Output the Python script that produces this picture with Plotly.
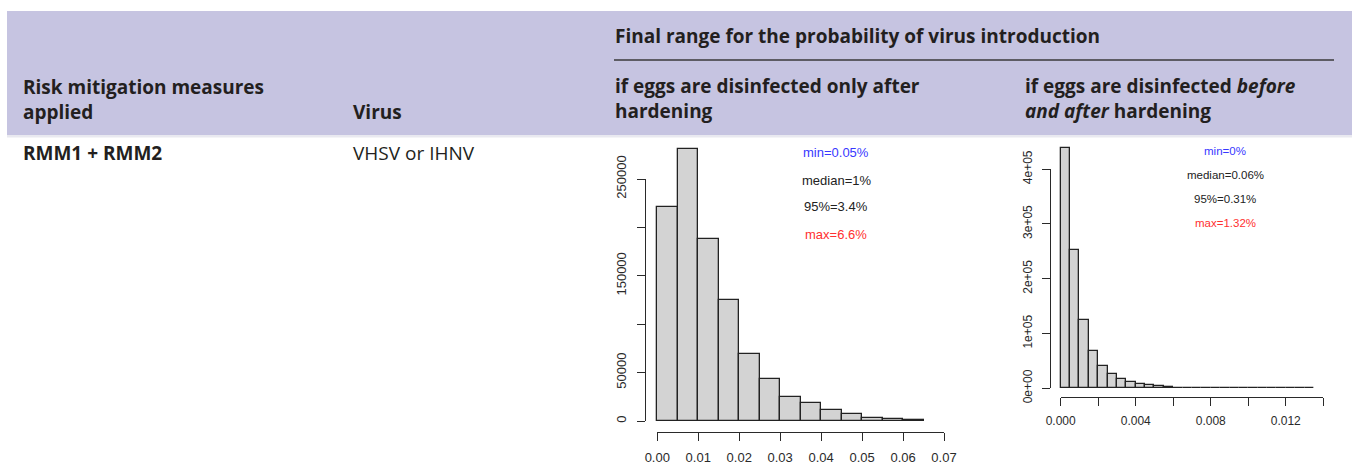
import plotly.graph_objects as go

W, H = 1352, 464

# ---------------- data ----------------
left_bin_starts = [0.000, 0.005, 0.010, 0.015, 0.020, 0.025, 0.030,
                   0.035, 0.040, 0.045, 0.050, 0.055, 0.060]
left_bin_width = 0.005
left_counts = [221000, 280500, 187700, 125000, 69500, 43700, 24500,
               18900, 11400, 7200, 3400, 2100, 700]
left_x_tickvals = [0.00, 0.01, 0.02, 0.03, 0.04, 0.05, 0.06, 0.07]
left_x_ticktext = ["0.00", "0.01", "0.02", "0.03", "0.04", "0.05", "0.06", "0.07"]
left_y_tickvals = [0, 50000, 100000, 150000, 200000, 250000]
left_y_ticktext = ["0", "50000", "", "150000", "", "250000"]
left_stats = ["min=0.05%", "median=1%", "95%=3.4%", "max=6.6%"]

right_bin_starts = [0.0000, 0.0005, 0.0010, 0.0015, 0.0020, 0.0025, 0.0030,
                    0.0035, 0.0040, 0.0045, 0.0050, 0.0055, 0.0060, 0.0065,
                    0.0070, 0.0075, 0.0080, 0.0085, 0.0090, 0.0095, 0.0100,
                    0.0105, 0.0110, 0.0115, 0.0120, 0.0125, 0.0130]
right_bin_width = 0.0005
right_counts = [438000, 252000, 124500, 68500, 40000, 26000, 16400,
                12000, 7800, 5500, 3600, 2900, 1400, 1100,
                900, 700, 550, 450, 120, 90, 60,
                40, 25, 15, 10, 5, 2]
right_x_tickvals = [0.000, 0.002, 0.004, 0.006, 0.008, 0.010, 0.012, 0.014]
right_x_ticktext = ["0.000", "", "0.004", "", "0.008", "", "0.012", ""]
right_y_tickvals = [0, 100000, 200000, 300000, 400000]
right_y_ticktext = ["0e+00", "1e+05", "2e+05", "3e+05", "4e+05"]
right_stats = ["min=0%", "median=0.06%", "95%=0.31%", "max=1.32%"]

stat_colors = ["#3838ff", "#222222", "#222222", "#ff3030"]

header_col1 = ["Risk mitigation measures", "applied"]
header_col2 = "Virus"
header_group = "Final range for the probability of virus introduction"
header_sub1 = ["if eggs are disinfected only after", "hardening"]
header_sub2 = ["if eggs are disinfected <i>before</i>", "<i>and after</i> hardening"]
row_measure = "RMM1 + RMM2"
row_virus = "VHSV or IHNV"


def px(x):
    return x / W


def py(y):
    return 1 - y / H


TXT = "#231F20"
AXC = "#2a2a2a"
HFONT = "Open Sans"
PFONT = "Liberation Sans, Arial, sans-serif"

fig = go.Figure()

bar_style = dict(color="#D3D3D3", line=dict(color="#222222", width=1.3))
fig.add_trace(go.Bar(x=left_bin_starts, y=left_counts, width=left_bin_width, offset=0,
                     marker=bar_style, xaxis="x", yaxis="y", hoverinfo="skip",
                     showlegend=False))
fig.add_trace(go.Bar(x=right_bin_starts, y=right_counts, width=right_bin_width, offset=0,
                     marker=bar_style, xaxis="x2", yaxis="y2", hoverinfo="skip",
                     showlegend=False))
# invisible anchors for the R-style decorative axes
fig.add_trace(go.Scatter(x=left_bin_starts, y=left_counts, xaxis="x3", yaxis="y3",
                         mode="markers", marker=dict(opacity=0), hoverinfo="skip",
                         showlegend=False))
fig.add_trace(go.Scatter(x=right_bin_starts, y=right_counts, xaxis="x4", yaxis="y4",
                         mode="markers", marker=dict(opacity=0), hoverinfo="skip",
                         showlegend=False))

# ---- pixel calibration ----
LX0, LXS = 657.3, 4096.0      # pixel of x=0, px per unit
LY0, LYS = 421.0, 0.000968    # pixel of y=0, px per count
RX0, RXS = 1060.7, 18757.0
RY0, RYS = 388.3, 0.000548

hidden = dict(visible=False, showgrid=False, zeroline=False, fixedrange=True)

ldx = (645, 952)
ldy = (140, 428)
rdx = (1048, 1330)
rdy = (140, 394)

deco = dict(showline=True, linecolor=AXC, linewidth=1.4, ticks="outside", ticklen=8,
            tickwidth=1.3, tickcolor=AXC, showgrid=False, zeroline=False,
            anchor="free", fixedrange=True, tickmode="array", automargin=False)

layout_axes = dict(
    xaxis=dict(domain=[px(ldx[0]), px(ldx[1])],
               range=[(ldx[0] - LX0) / LXS, (ldx[1] - LX0) / LXS], anchor="y", **hidden),
    yaxis=dict(domain=[py(ldy[1]), py(ldy[0])],
               range=[-(ldy[1] - LY0) / LYS, (LY0 - ldy[0]) / LYS], anchor="x", **hidden),
    xaxis2=dict(domain=[px(rdx[0]), px(rdx[1])],
                range=[(rdx[0] - RX0) / RXS, (rdx[1] - RX0) / RXS], anchor="y2", **hidden),
    yaxis2=dict(domain=[py(rdy[1]), py(rdy[0])],
                range=[-(rdy[1] - RY0) / RYS, (RY0 - rdy[0]) / RYS], anchor="x2", **hidden),
    xaxis3=dict(domain=[px(LX0), px(LX0 + 0.07 * LXS)], range=[0, 0.07],
                position=py(431.7), tickvals=left_x_tickvals, ticktext=left_x_ticktext,
                tickfont=dict(family=PFONT, size=13, color=AXC), ticklabelstandoff=5, **deco),
    yaxis3=dict(domain=[py(LY0), py(LY0 - 250000 * LYS)], range=[0, 250000],
                position=px(645), tickvals=left_y_tickvals, ticktext=left_y_ticktext,
                tickangle=-90, tickfont=dict(family=PFONT, size=13, color=AXC),
                ticklabelstandoff=6, **deco),
    xaxis4=dict(domain=[px(RX0), px(RX0 + 0.014 * RXS)], range=[0, 0.014],
                position=py(396.7), tickvals=right_x_tickvals, ticktext=right_x_ticktext,
                tickfont=dict(family=PFONT, size=12, color=AXC), ticklabelstandoff=5, **deco),
    yaxis4=dict(domain=[py(RY0), py(RY0 - 400000 * RYS)], range=[0, 400000],
                position=px(1050), tickvals=right_y_tickvals, ticktext=right_y_ticktext,
                tickangle=-90, tickfont=dict(family=PFONT, size=12, color=AXC),
                ticklabelstandoff=5, **deco),
)

annotations = []


def text(x, y, s, size=19, bold=True, color=TXT, family=HFONT, anchor="left"):
    annotations.append(dict(xref="paper", yref="paper", x=px(x), y=py(y), text=s,
                            showarrow=False, xanchor=anchor, yanchor="middle",
                            font=dict(family=family, size=size, color=color,
                                      weight="bold" if bold else "normal")))


text(21, 87, header_col1[0])
text(21, 112, header_col1[1])
text(351, 112, header_col2)
text(613, 36, header_group)
text(613, 86, header_sub1[0])
text(613, 111, header_sub1[1])
text(1023, 86, header_sub2[0])
text(1023, 111, header_sub2[1])
text(21, 153, row_measure)
text(351, 153, row_virus, bold=False)

for s, c, yy in zip(left_stats, stat_colors, [153, 180, 206.5, 234]):
    text(836, yy, s, size=13, bold=False, color=c, family=PFONT, anchor="center")
for s, c, yy in zip(right_stats, stat_colors, [151, 174.5, 198.5, 222.5]):
    text(1225, yy, s, size=11.5, bold=False, color=c, family=PFONT, anchor="center")

shapes = [
    dict(type="rect", xref="paper", yref="paper", x0=px(7), x1=1, y0=py(135), y1=py(11),
         fillcolor="#C6C4E1", line=dict(width=0), layer="below"),
    dict(type="rect", xref="paper", yref="paper", x0=px(7), x1=1, y0=py(137.5), y1=py(135),
         fillcolor="#E9E9F0", line=dict(width=0), layer="below"),
    dict(type="line", xref="paper", yref="paper", x0=px(614), x1=px(1334), y0=py(60), y1=py(60),
         line=dict(color="#3a3a3a", width=1.5)),
]

fig.update_layout(
    width=W, height=H, margin=dict(l=0, r=0, t=0, b=0, pad=0, autoexpand=False),
    paper_bgcolor="white", plot_bgcolor="rgba(0,0,0,0)",
    showlegend=False, bargap=0,
    annotations=annotations, shapes=shapes,
    **layout_axes,
)

fig.write_html(
    "out.html",
    config={"displayModeBar": False},
    post_script="document.body.style.margin='0';document.body.style.padding='0';"
                "document.body.style.overflow='hidden';",
)
